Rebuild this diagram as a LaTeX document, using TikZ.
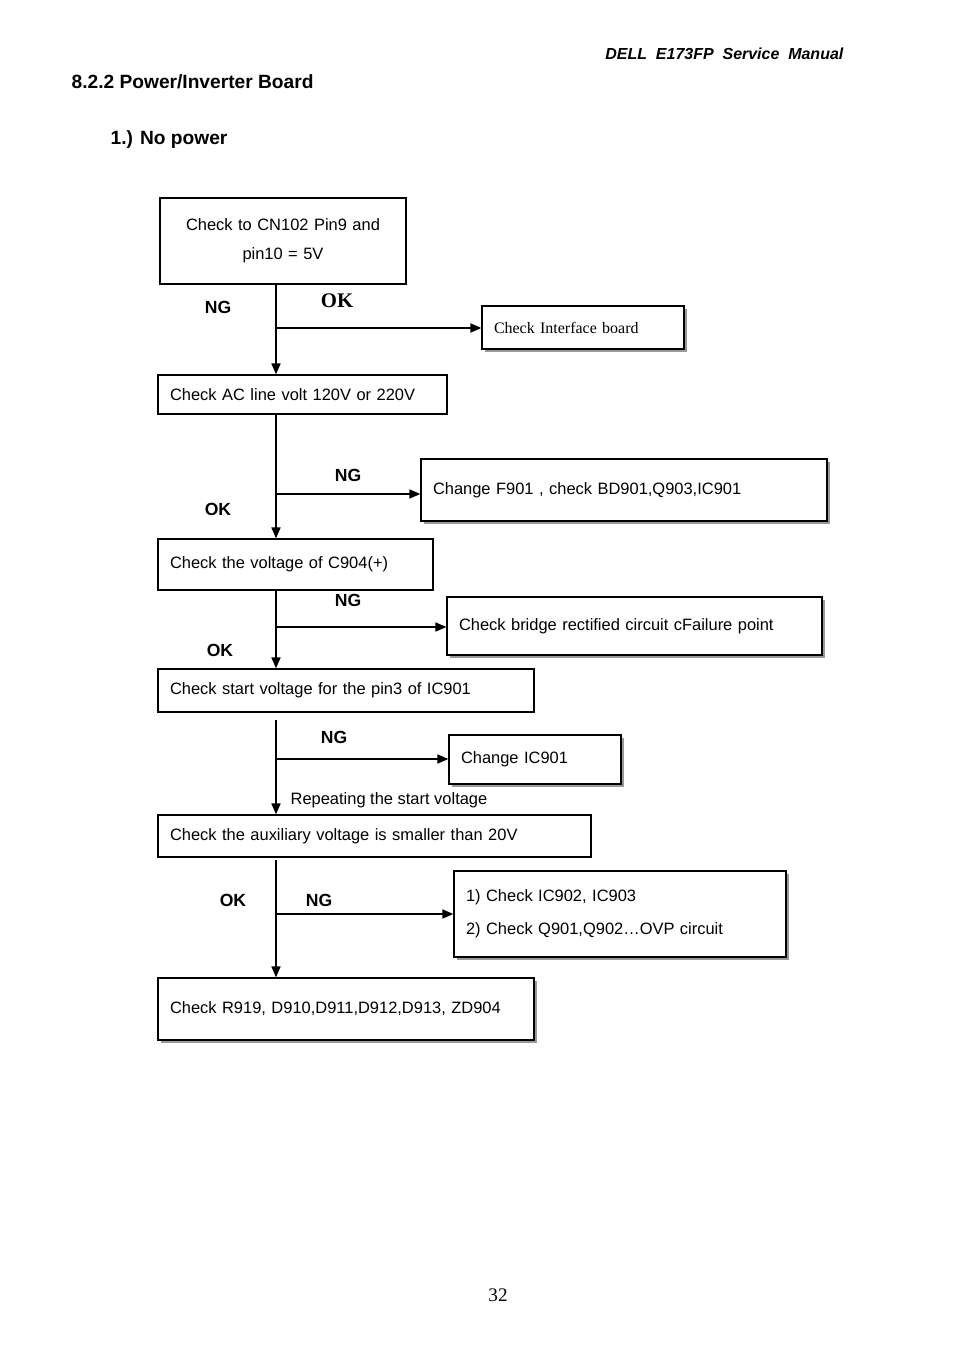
\documentclass[tikz,border=0pt]{standalone}
\usepackage{fontspec}
\setmainfont{Liberation Serif}
\setsansfont{Liberation Sans}
\usetikzlibrary{arrows.meta, shadows}
\newcommand{\pxu}{0.22mm}

\begin{document}
\begin{tikzpicture}[x=\pxu, y=-\pxu,
    chkbox/.style={draw, fill=white, line width=0.3mm, inner xsep=2.64mm, inner ysep=0pt, align=left,
      font=\sffamily\fontsize{10.3}{12}\selectfont},
    shadebox/.style={chkbox, drop shadow={shadow xshift=0.7mm, shadow yshift=-0.7mm, fill=gray!80, opacity=1}},
    flow/.style={line width=0.3mm, -{Triangle[length=2.4mm, width=2mm]}},
    tag/.style={font=\sffamily\bfseries\fontsize{11}{13}\selectfont}]
  \useasboundingbox (0,0) rectangle (954,1351);

  % --- Page heading ---
  \node[font=\sffamily\bfseries\itshape\fontsize{10}{12}\selectfont, anchor=east] (hdr) at (849,54) {DELL\ \ E173FP\ \ Service\ \ Manual};
  \node[font=\sffamily\bfseries\fontsize{12}{14}\selectfont, anchor=west] (sec) at (66,82) {8.2.2 Power/Inverter Board};
  \node[font=\sffamily\bfseries\fontsize{12}{14}\selectfont, anchor=west] (sub) at (105,140) {1.) No power};

  % --- Main column ---
  \node[chkbox, align=center, text width=48.84mm, minimum height=18.92mm] (chkCN) at (283,241) {Check to CN102 Pin9 and\\[6pt] pin10 = 5V};
  \node[chkbox, text width=58.3mm, minimum height=8.58mm] (chkAC) at (302.5,394.5) {Check AC line volt 120V or 220V};
  \node[chkbox, text width=55.22mm, minimum height=11.22mm] (chkCap) at (295.5,564.5) {Check the voltage of C904(+)};
  \node[chkbox, text width=77.44mm, minimum height=9.46mm] (chkStart) at (346,690.5) {Check start voltage for the pin3 of IC901};
  \node[chkbox, text width=89.98mm, minimum height=9.24mm] (chkAux) at (374.5,836) {Check the auxiliary voltage is smaller than 20V};
  \node[shadebox, text width=77.44mm, minimum height=13.64mm] (chkDiode) at (346,1009) {Check R919, D910,D911,D912,D913, ZD904};

  % --- Side boxes ---
  \node[shadebox, font=\rmfamily\fontsize{10}{12}\selectfont, text width=39.16mm, minimum height=9.46mm] (chkIface) at (583,327.5) {Check Interface board};
  \node[shadebox, text width=84.04mm, minimum height=13.64mm] (chgFuse) at (624,490) {Change F901 , check BD901,Q903,IC901};
  \node[shadebox, text width=77.22mm, minimum height=12.76mm] (chkBridge) at (634.5,626) {Check bridge rectified circuit cFailure point};
  \node[shadebox, text width=32.56mm, minimum height=10.78mm] (chgIC) at (535,759.5) {Change IC901};
  \node[shadebox, text width=67.76mm, minimum height=18.92mm] (chkOVP) at (620,914) {1) Check IC902, IC903\\[8.6pt] 2) Check Q901,Q902\dots OVP circuit};

  % --- Branch points on the spine ---
  \coordinate (b1) at (276,328);
  \coordinate (b2) at (276,494);
  \coordinate (b3) at (276,627);
  \coordinate (b4) at (276,759);
  \coordinate (b5) at (276,914);
  \coordinate (t4) at (276,720);
  \coordinate (t5) at (276,860);

  % --- Connectors ---
  \draw[flow] (chkCN.south -| b1) -- (chkAC.north -| b1);
  \draw[flow] (b1) -- (b1 -| chkIface.west);
  \draw[flow] (chkAC.south -| b2) -- (chkCap.north -| b2);
  \draw[flow] (b2) -- (b2 -| chgFuse.west);
  \draw[flow] (chkCap.south -| b3) -- (chkStart.north -| b3);
  \draw[flow] (b3) -- (b3 -| chkBridge.west);
  \draw[flow] (t4) -- (chkAux.north -| b4);
  \draw[flow] (b4) -- (b4 -| chgIC.west);
  \draw[flow] (t5) -- (chkDiode.north -| b5);
  \draw[flow] (b5) -- (b5 -| chkOVP.west);

  % --- Labels ---
  \node[tag] (ng1) at (218,307) {NG};
  \node[font=\rmfamily\bfseries\fontsize{13}{15}\selectfont] (ok1) at (337,301) {OK};
  \node[tag] (ng2) at (348,475) {NG};
  \node[tag] (ok2) at (218,509) {OK};
  \node[tag] (ng3) at (348,600) {NG};
  \node[tag] (ok3) at (220,650) {OK};
  \node[tag] (ng4) at (334,737) {NG};
  \node[font=\sffamily\fontsize{10.3}{12}\selectfont, anchor=west] (rep) at (285,800) {Repeating the start voltage};
  \node[tag] (ok5) at (233,900) {OK};
  \node[tag] (ng5) at (319,900) {NG};

  % --- Page number ---
  \node[font=\rmfamily\fontsize{12}{14}\selectfont] (pg) at (498,1295) {32};
\end{tikzpicture}
\end{document}
